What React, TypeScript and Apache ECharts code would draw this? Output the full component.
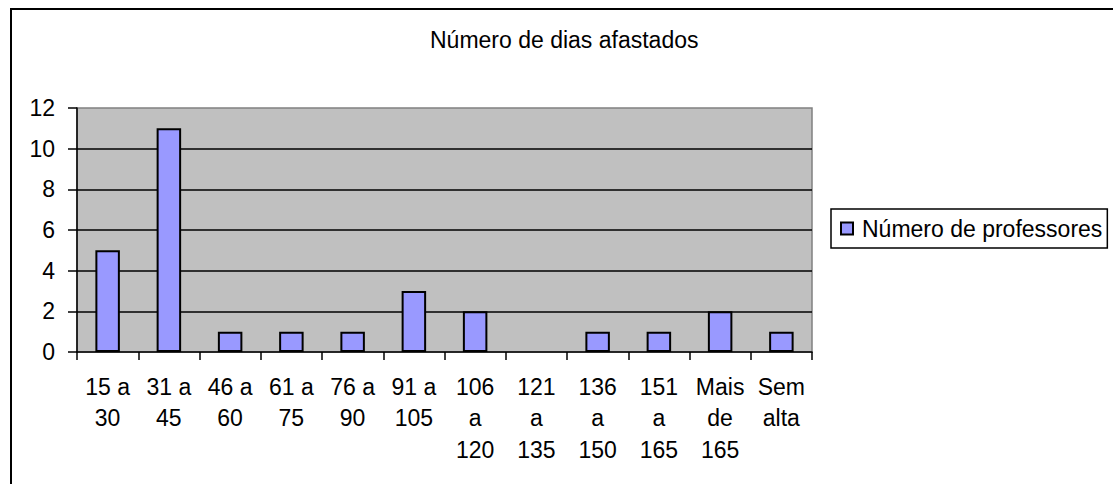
import React, { useEffect, useRef } from "react";
import * as echarts from "echarts";

const titleText = "Número de dias afastados";
const seriesName = "Número de professores";
const categories = [
  "15 a\n30",
  "31 a\n45",
  "46 a\n60",
  "61 a\n75",
  "76 a\n90",
  "91 a\n105",
  "106\na\n120",
  "121\na\n135",
  "136\na\n150",
  "151\na\n165",
  "Mais\nde\n165",
  "Sem\nalta",
];
const values = [5, 11, 1, 1, 1, 3, 2, 0, 1, 1, 2, 1];
const yMin = 0;
const yMax = 12;
const yStep = 2;

const FONT = "'Liberation Sans', Arial, sans-serif";
const FS = 23;

export default function App() {
  const ref = useRef<HTMLDivElement>(null);
  useEffect(() => {
    if (!ref.current) return;
    const chart = echarts.init(ref.current, undefined, { renderer: "svg" });
    chart.setOption({
      animation: false,
      backgroundColor: "#ffffff",
      textStyle: { fontFamily: FONT, color: "#000" },
      title: {
        text: titleText,
        left: 430,
        top: 28,
        padding: 0,
        textStyle: { fontFamily: FONT, fontSize: FS, fontWeight: "normal", color: "#000" },
      },
      legend: {
        show: true,
        left: 831,
        top: 209,
        orient: "vertical",
        padding: [8, 5, 8, 9],
        borderColor: "#000",
        borderWidth: 1.5,
        backgroundColor: "#fff",
        itemWidth: 12,
        itemHeight: 12,
        icon: "rect",
        textStyle: { fontFamily: FONT, fontSize: FS, color: "#000", padding: [0, 0, 0, 4] },
        data: [seriesName],
      },
      grid: {
        left: 77,
        right: 301,
        top: 108,
        bottom: 132,
        show: true,
        backgroundColor: "#C0C0C0",
        borderColor: "#808080",
        borderWidth: 1.5,
        containLabel: false,
      },
      xAxis: {
        type: "category",
        data: categories,
        boundaryGap: true,
        axisLine: { show: true, lineStyle: { color: "#000", width: 1.5 } },
        axisTick: { show: true, length: 8, alignWithLabel: false, lineStyle: { color: "#000", width: 1.5 } },
        axisLabel: {
          interval: 0,
          margin: 19,
          fontFamily: FONT,
          fontSize: FS,
          lineHeight: 31.5,
          color: "#000",
          align: "center",
        },
        splitLine: { show: false },
      },
      yAxis: {
        type: "value",
        min: yMin,
        max: yMax,
        interval: yStep,
        axisLine: { show: true, lineStyle: { color: "#000", width: 1.5 } },
        axisTick: { show: true, length: 9, lineStyle: { color: "#000", width: 1.5 } },
        axisLabel: { margin: 22, fontFamily: FONT, fontSize: FS, color: "#000" },
        splitLine: { show: true, showMinLine: false, showMaxLine: false, lineStyle: { color: "#000", width: 1.5 } },
      },
      graphic: [
        {
          type: "rect",
          shape: { x: 11, y: 9, width: 1300, height: 700 },
          style: { fill: "none", stroke: "#000", lineWidth: 2 },
          silent: true,
          z: 100,
        },
      ],
      series: [
        {
          name: seriesName,
          type: "bar",
          data: values.map((v) => (v === 0 ? null : v)),
          barWidth: "40%",
          itemStyle: { color: "#9999FF", borderColor: "#000", borderWidth: 2 },
        },
      ],
    });
    return () => chart.dispose();
  }, []);
  return (
    <div
      ref={ref}
      style={{ position: "absolute", left: 0, top: 0, width: 1113, height: 484 }}
    />
  );
}
